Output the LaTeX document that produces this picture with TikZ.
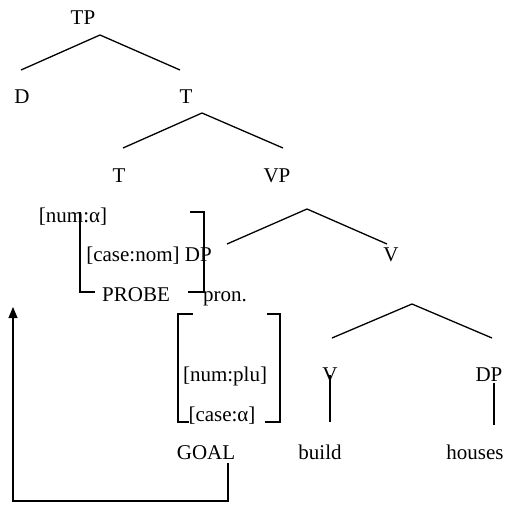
\documentclass[tikz,border=0pt]{standalone}
\usepackage{fontspec}
\setmainfont{Liberation Serif}
\usetikzlibrary{arrows.meta}
\begin{document}
\begin{tikzpicture}[x=1pt,y=-1pt,
  lbl/.style={inner sep=0pt,anchor=base,font=\fontsize{21}{25}\selectfont},
  branch/.style={line width=1.3pt},
  brk/.style={line width=1.3pt},
  agree/.style={line width=1.1pt,-{Triangle[width=9pt,length=11pt]}}]
\useasboundingbox (0,0) rectangle (506,504);
% labels
\node[lbl] (TP) at (83,24) {TP};
\node[lbl] (D) at (22,103) {D};
\node[lbl] (T1) at (186,103) {T};
\node[lbl] (T2) at (119,182) {T};
\node[lbl] (VP) at (277,182) {VP};
\node[lbl] (numA) at (73,222) {[num:α]};
\node[lbl] (caseDP) at (149,261) {[case:nom] DP};
\node[lbl] (V1) at (391,261) {V};
\node[lbl] (probe) at (136,301) {PROBE};
\node[lbl] (pron) at (225,301) {pron.};
\node[lbl] (numplu) at (225,381) {[num:plu]};
\node[lbl] (casea) at (222,421) {[case:α]};
\node[lbl] (goal) at (206,459) {GOAL};
\node[lbl] (build) at (320,459) {build};
\node[lbl] (V2) at (330,381) {V};
\node[lbl] (DP2) at (489,381) {DP};
\node[lbl] (houses) at (475,459) {houses};
% branch points
\coordinate (aTP) at (100,35);
\coordinate (lTP) at (21,70);
\coordinate (rTP) at (180,70);
\coordinate (aT) at (202,113);
\coordinate (lT) at (123,148);
\coordinate (rT) at (283,148);
\coordinate (aVP) at (307,209);
\coordinate (lVP) at (227,244);
\coordinate (rVP) at (387,244);
\coordinate (aV) at (412,304);
\coordinate (lV) at (332,338);
\coordinate (rV) at (492,338);
\coordinate (v2top) at (330,375);
\coordinate (v2bot) at (330,422);
\coordinate (dp2top) at (494,383);
\coordinate (dp2bot) at (494,425);
\draw[branch] (lTP) -- (aTP) -- (rTP);
\draw[branch] (lT) -- (aT) -- (rT);
\draw[branch] (lVP) -- (aVP) -- (rVP);
\draw[branch] (lV) -- (aV) -- (rV);
\draw[branch] (v2top) -- (v2bot);
\draw[branch] (dp2top) -- (dp2bot);
% brackets
\draw[brk] (95,292) -- (80,292) -- (80,212);
\draw[brk] (190,212) -- (204,212) -- (204,292) -- (188,292);
\draw[brk] (193,314) -- (178,314) -- (178,422) -- (189,422);
\draw[brk] (267,314) -- (280,314) -- (280,422) -- (265,422);
% agreement arrow
\coordinate (g0) at (228,463);
\coordinate (g1) at (228,501);
\coordinate (g2) at (13,501);
\coordinate (g3) at (13,307);
\draw[agree] (g0) -- (g1) -- (g2) -- (g3);
\end{tikzpicture}
\end{document}
